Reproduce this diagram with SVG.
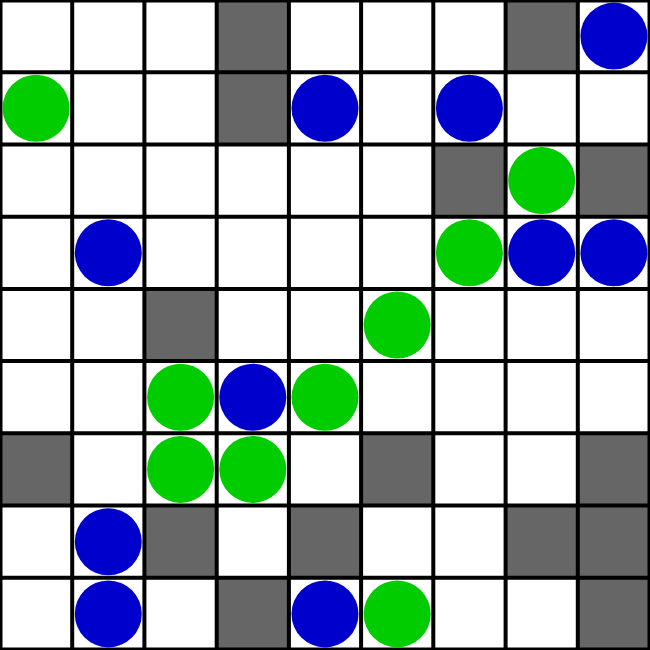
<svg xmlns="http://www.w3.org/2000/svg" width="650" height="650" viewBox="0 0 650 650">
<defs>
<style>
.w{fill:#ffffff}
.g{fill:#666666}
.b{fill:#0000cc}
.n{fill:#00cc00}
.ln{stroke:#000;stroke-width:4;fill:none}
</style>
</defs>
<rect x="0" y="0" width="650" height="650" class="w"/>
<g id="walls">
<rect class="g" x="216.7" y="0" width="72.2" height="72.2"/>
<rect class="g" x="505.6" y="0" width="72.2" height="72.2"/>
<rect class="g" x="216.7" y="72.2" width="72.2" height="72.2"/>
<rect class="g" x="433.3" y="144.4" width="72.2" height="72.2"/>
<rect class="g" x="577.8" y="144.4" width="72.2" height="72.2"/>
<rect class="g" x="144.4" y="288.9" width="72.2" height="72.2"/>
<rect class="g" x="0" y="433.3" width="72.2" height="72.2"/>
<rect class="g" x="361.1" y="433.3" width="72.2" height="72.2"/>
<rect class="g" x="577.8" y="433.3" width="72.2" height="72.2"/>
<rect class="g" x="144.4" y="505.6" width="72.2" height="72.2"/>
<rect class="g" x="288.9" y="505.6" width="72.2" height="72.2"/>
<rect class="g" x="505.6" y="505.6" width="72.2" height="72.2"/>
<rect class="g" x="577.8" y="505.6" width="72.2" height="72.2"/>
<rect class="g" x="216.7" y="577.8" width="72.2" height="72.2"/>
<rect class="g" x="577.8" y="577.8" width="72.2" height="72.2"/>
</g>
<g id="grid" class="ln">
<path d="M72.2 0V650M144.4 0V650M216.7 0V650M288.9 0V650M361.1 0V650M433.3 0V650M505.6 0V650M577.8 0V650"/>
<path d="M0 72.2H650M0 144.4H650M0 216.7H650M0 288.9H650M0 361.1H650M0 433.3H650M0 505.6H650M0 577.8H650"/>
<rect x="1" y="1" width="648" height="648" stroke-width="3"/>
</g>
<g id="pieces">
<circle class="b" cx="613.9" cy="36.1" r="33.5"/>
<circle class="n" cx="36.1" cy="108.3" r="33.5"/>
<circle class="b" cx="325" cy="108.3" r="33.5"/>
<circle class="b" cx="469.4" cy="108.3" r="33.5"/>
<circle class="n" cx="541.7" cy="180.6" r="33.5"/>
<circle class="b" cx="108.3" cy="252.8" r="33.5"/>
<circle class="n" cx="469.4" cy="252.8" r="33.5"/>
<circle class="b" cx="541.7" cy="252.8" r="33.5"/>
<circle class="b" cx="613.9" cy="252.8" r="33.5"/>
<circle class="n" cx="397.2" cy="325" r="33.5"/>
<circle class="n" cx="180.6" cy="397.2" r="33.5"/>
<circle class="b" cx="252.8" cy="397.2" r="33.5"/>
<circle class="n" cx="325" cy="397.2" r="33.5"/>
<circle class="n" cx="180.6" cy="469.4" r="33.5"/>
<circle class="n" cx="252.8" cy="469.4" r="33.5"/>
<circle class="b" cx="108.3" cy="541.7" r="33.5"/>
<circle class="b" cx="108.3" cy="613.9" r="33.5"/>
<circle class="b" cx="325" cy="613.9" r="33.5"/>
<circle class="n" cx="397.2" cy="613.9" r="33.5"/>
</g>
</svg>
